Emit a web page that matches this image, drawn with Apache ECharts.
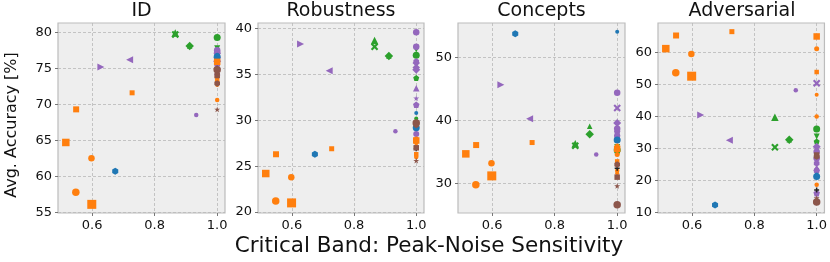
<!DOCTYPE html>
<html><head><meta charset="utf-8">
<script src="https://cdn.jsdelivr.net/npm/echarts@6/dist/echarts.min.js"></script>
<style>html,body{margin:0;padding:0;background:#fff}#c{width:830px;height:262px}</style>
</head><body><div id="c"></div>
<script>
const panelTitles = ['ID', 'Robustness', 'Concepts', 'Adversarial'];
const xTicks = [0.6, 0.8, 1.0];
const yTicksID = [55, 60, 65, 70, 75, 80];
const yTicksRob = [20, 25, 30, 35, 40];
const yTicksCon = [30, 40, 50];
const yTicksAdv = [10, 20, 30, 40, 50, 60];

// sensitivity (x) per model
const sensitivity = [0.516, 0.549, 0.548, 0.598, 0.599, 0.674, 0.628, 0.72, 0.728, 0.866, 0.866, 0.912, 0.912, 0.933,
  1, 1, 1, 1, 1, 1, 1, 1, 1, 1, 1, 1, 1, 1, 1, 1, 1, 1, 1, 1, 1, 1, 1, 1, 1, 1];
const accID  = [64.7, 69.3, 57.8, 62.5, 56.1, 60.7, 75.2, 76.2, 71.6, 79.9, 79.7, 78.1, 78.1, 68.5,
  79.3, 77.8, 77.0, 76.0, 77.5, 76.8, 76.0, 77.2, 75.5, 74.5, 75.0, 76.5, 76.2, 76.6, 76.9, 75.9, 73.8, 73.2, 72.7, 70.6, 74.2, 75.0, 74.8, 69.3, 72.9, 74.0];
const accRob = [24.2, 26.3, 21.2, 23.8, 21.0, 26.3, 38.3, 35.4, 26.9, 38.7, 38.0, 37.0, 37.0, 28.8,
  37.1, 37.7, 34.6, 30.2, 39.6, 36.0, 35.5, 38.0, 36.4, 33.5, 32.4, 31.7, 28.5, 29.2, 30.8, 27.8, 27.1, 26.3, 27.5, 26.0, 28.0, 26.9, 29.7, 25.6, 29.5, 27.0];
const accCon = [34.7, 36.1, 29.8, 33.2, 31.2, 53.8, 45.7, 40.3, 36.5, 36.3, 36.0, 37.8, 39.1, 34.6,
  35.3, 35.8, 35.0, 34.8, 44.4, 42.0, 39.6, 38.7, 37.4, 38.0, 37.0, 38.2, 37.6, 36.9, 54.1, 35.5, 34.6, 33.5, 31.6, 32.0, 36.0, 32.4, 26.6, 29.6, 33.0, 31.0];
const accAdv = [61.2, 65.3, 53.7, 59.5, 52.6, 12.4, 40.5, 32.6, 66.5, 39.8, 30.4, 32.8, 32.8, 48.2,
  36.1, 33.8, 32.2, 29.5, 27.0, 50.4, 30.6, 29.0, 25.4, 24.0, 22.4, 16.1, 23.2, 21.3, 21.9, 65.0, 61.2, 53.9, 46.8, 40.0, 18.7, 17.1, 13.3, 14.6, 27.5, 28.0];

// styles (marker, colour, size) per model
const C = {b:'#1f77b4', o:'#ff7f0e', g:'#2ca02c', p:'#9467bd', br:'#8c564b', k:'#222222'};
const M = {
  o:'circle', s:'rect', d:'diamond', '^':'triangle',
  '>':'path://M0,0 L10,5 L0,10 Z',
  '<':'path://M10,0 L0,5 L10,10 Z',
  'v':'path://M0,0 L10,0 L5,10 Z',
  x:'path://M2,0 L5,3 L8,0 L10,2 L7,5 L10,8 L8,10 L5,7 L2,10 L0,8 L3,5 L0,2 Z',
  h:'path://M5,0 L9.33,2.5 L9.33,7.5 L5,10 L0.67,7.5 L0.67,2.5 Z',
  pe:'path://M5,0 L10,3.8 L8.1,10 L1.9,10 L0,3.8 Z',
  '*':'path://M5,0 L6.2,3.6 L10,3.6 L6.9,5.9 L8.1,9.5 L5,7.3 L1.9,9.5 L3.1,5.9 L0,3.6 L3.8,3.6 Z',
  '+':'path://M3.5,0 H6.5 V3.5 H10 V6.5 H6.5 V10 H3.5 V6.5 H0 V3.5 H3.5 Z'
};
const styles = [
  ['s','o',7.5],['s','o',6],['o','o',7.5],['o','o',6.5],['s','o',9],['h','b',7],['>','p',7],['<','p',7],['s','o',5],
  ['^','g',7.5],['x','g',7.5],['d','g',8.5],['^','g',5.5],['o','p',4.5],
  ['o','g',7],['v','g',6],['pe','g',6],['o','g',4],['o','p',6.5],['x','p',7.5],['d','p',8],['o','p',6.5],['h','p',6.5],
  ['^','p',6.5],['*','p',6],['pe','p',6.5],['o','p',6],['o','b',7],['o','b',4],['s','o',6.5],['o','o',5],['s','o',4.5],
  ['o','o',4],['o','o',4.5],['o','o',4.5],['+','k',5],['o','br',7.5],['*','br',6],['h','br',6.5],['s','br',5.5]
];

const grids = [
  {left:58, width:167}, {left:258, width:166}, {left:458, width:167}, {left:658, width:168}
];
const yRanges = [[54.9, 81.3], [19.9, 40.6], [25.3, 55.5], [9.9, 69.2]];
const yTicks = [yTicksID, yTicksRob, yTicksCon, yTicksAdv];
const vals = [accID, accRob, accCon, accAdv];
const font = 'DejaVu Sans';

const option = {
  animation: false,
  grid: grids.map(g => ({left:g.left, width:g.width, top:23, height:190, show:true,
    backgroundColor:'#eeeeee', borderColor:'#bcbcbc', borderWidth:1.2})),
  xAxis: grids.map((g,i) => ({
    type:'value', gridIndex:i, min:0.491, max:1.025,
    axisLine:{show:false},
    axisTick:{show:true, length:3, lineStyle:{color:'#777'}, customValues:xTicks},
    axisLabel:{customValues:xTicks, formatter:v=>v.toFixed(1), fontSize:13, fontFamily:font, color:'#111', margin:6},
    splitLine:{show:true, lineStyle:{type:[3,2], color:'#b8b8b8', width:0.8}}
  })),
  yAxis: grids.map((g,i) => ({
    type:'value', gridIndex:i, min:yRanges[i][0], max:yRanges[i][1],
    axisLine:{show:false},
    axisTick:{show:true, length:3, lineStyle:{color:'#777'}, customValues:yTicks[i]},
    axisLabel:{customValues:yTicks[i], fontSize:13, fontFamily:font, color:'#111', margin:6},
    splitLine:{show:true, lineStyle:{type:[3,2], color:'#b8b8b8', width:0.8}}
  })),
  series: vals.map((arr,i) => ({
    type:'scatter', xAxisIndex:i, yAxisIndex:i, symbolKeepAspect:true,
    data: arr.map((v,k) => ({
      value:[sensitivity[k], v],
      symbol: M[styles[k][0]], symbolSize: styles[k][2],
      itemStyle:{color: C[styles[k][1]], opacity:1}
    }))
  })),
  graphic: [
    ...panelTitles.map((t,i) => ({type:'text', x: grids[i].left + grids[i].width/2, y: 11,
      style:{text:t, align:'center', verticalAlign:'middle', fontSize:19, fontFamily:font, fill:'#111'}})),
    {type:'text', x:12, y:125, rotation:Math.PI/2,
      style:{text:'Avg. Accuracy [%]', align:'center', verticalAlign:'middle', fontSize:16, fontFamily:font, fill:'#111'}},
    {type:'text', x:429, y:246,
      style:{text:'Critical Band: Peak-Noise Sensitivity', align:'center', verticalAlign:'middle', fontSize:21.5, fontFamily:font, fill:'#111'}}
  ]
};
echarts.init(document.getElementById('c'), null, {renderer:'canvas'}).setOption(option);
</script></body></html>
